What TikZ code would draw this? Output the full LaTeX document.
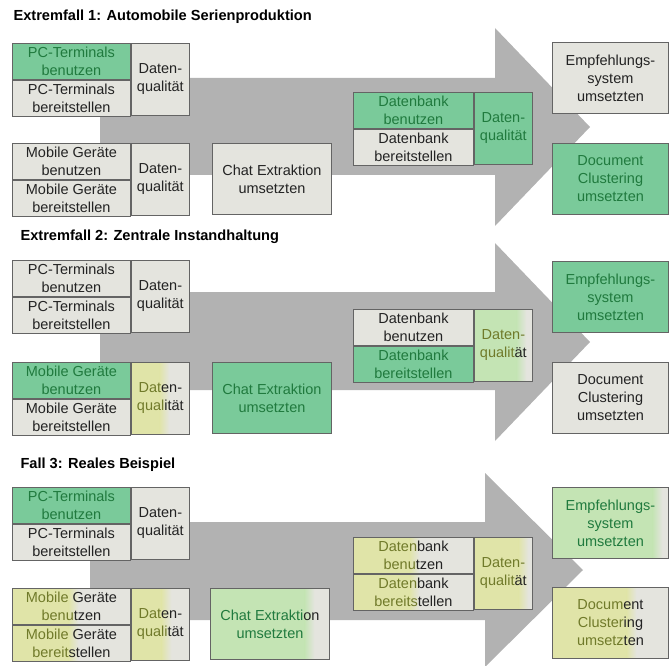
\documentclass[tikz,border=0pt]{standalone}
\usepackage{fontspec}
\setmainfont{Liberation Sans}
\usetikzlibrary{positioning}

\definecolor{cellgray}{RGB}{228,228,222}
\definecolor{cellgreen}{RGB}{122,202,154}
\definecolor{greentext}{RGB}{32,122,62}
\definecolor{lightgreen}{RGB}{196,228,180}
\definecolor{yellowish}{RGB}{224,228,168}
\definecolor{olivetext}{RGB}{112,122,42}
\definecolor{arrowgray}{RGB}{178,178,178}
\definecolor{frame}{RGB}{100,100,100}
\definecolor{darktext}{RGB}{35,35,35}

\newcommand{\olv}[1]{\textcolor{olivetext}{#1}}
\newcommand{\grn}[1]{\textcolor{greentext}{#1}}

\tikzset{
  cell/.style={draw=frame, line width=0.9pt, fill=cellgray, text=darktext,
    inner sep=0pt, align=center, minimum width=118pt, minimum height=36pt,
    font=\fontsize{14.5}{18}\selectfont},
  qual/.style={cell, minimum width=58pt, minimum height=72pt},
  dbcell/.style={cell, minimum width=120pt},
  taskbox/.style={cell, minimum width=119pt, minimum height=71pt},
  hot/.style={fill=cellgreen, text=greentext},
  partfill/.style 2 args={path picture={
    \fill[#1] (path picture bounding box.south west) rectangle ([xshift=#2]path picture bounding box.north west);
    \shade[left color=#1, right color=cellgray] ([xshift=#2]path picture bounding box.south west) rectangle ([xshift=#2+10]path picture bounding box.north west);
  }},
  heading/.style={anchor=west, font=\bfseries\fontsize{14.6}{17}\selectfont}
}

\begin{document}
\begin{tikzpicture}[x=1pt, y=-1pt, node distance=0pt]
  \useasboundingbox (0,0) rectangle (670,666);

  % Extremfall 1
  \node[heading] (t1) at (10,17) {Extremfall 1: Automobile Serienproduktion};
  \fill[arrowgray] (100,78) -- (495,78) -- (495,28) -- (590,127) -- (495,226) -- (495,175) -- (100,175) -- cycle;
  \node[cell, hot, anchor=north west] (pcu1) at (12,43) {PC-Terminals\\benutzen};
  \node[cell, below=of pcu1] (pcb1) {PC-Terminals\\bereitstellen};
  \node[qual, anchor=north west] (pcq1) at (pcu1.north east) {Daten-\\qualität};
  \node[cell, anchor=north west] (mgu1) at (12,143) {Mobile Geräte\\benutzen};
  \node[cell, below=of mgu1] (mgb1) {Mobile Geräte\\bereitstellen};
  \node[qual, anchor=north west] (mgq1) at (mgu1.north east) {Daten-\\qualität};
  \node[taskbox, anchor=north west] (chat1) at (212,143) {Chat Extraktion\\umsetzten};
  \node[dbcell, hot, anchor=north west] (dbu1) at (353,92) {Datenbank\\benutzen};
  \node[dbcell, below=of dbu1] (dbb1) {Datenbank\\bereitstellen};
  \node[qual, hot, anchor=north west] (dbq1) at (dbu1.north east) {Daten-\\qualität};
  \node[taskbox, minimum width=116pt, anchor=north west] (emp1) at (552,42) {Empfehlungs-\\system\\umsetzten};
  \node[taskbox, hot, minimum width=116pt, anchor=north west] (doc1) at (552,143) {Document\\Clustering\\umsetzten};

  % Extremfall 2
  \node[heading] (t2) at (17,237) {Extremfall 2: Zentrale Instandhaltung};
  \fill[arrowgray] (100,292) -- (495,292) -- (495,243) -- (590,342) -- (495,441) -- (495,390) -- (100,390) -- cycle;
  \node[cell, anchor=north west] (pcu2) at (12,260) {PC-Terminals\\benutzen};
  \node[cell, below=of pcu2] (pcb2) {PC-Terminals\\bereitstellen};
  \node[qual, anchor=north west] (pcq2) at (pcu2.north east) {Daten-\\qualität};
  \node[cell, hot, anchor=north west] (mgu2) at (12,362) {Mobile Geräte\\benutzen};
  \node[cell, below=of mgu2] (mgb2) {Mobile Geräte\\bereitstellen};
  \node[qual, partfill={yellowish}{28}, anchor=north west] (mgq2) at (mgu2.north east) {\olv{Dat}en-\\\olv{qual}ität};
  \node[taskbox, hot, anchor=north west] (chat2) at (212,362) {Chat Extraktion\\umsetzten};
  \node[dbcell, anchor=north west] (dbu2) at (353,309) {Datenbank\\benutzen};
  \node[dbcell, hot, below=of dbu2] (dbb2) {Datenbank\\bereitstellen};
  \node[qual, partfill={lightgreen}{42}, anchor=north west] (dbq2) at (dbu2.north east) {\olv{Daten-}\\\olv{qualit}ät};
  \node[taskbox, hot, minimum width=116pt, anchor=north west] (emp2) at (552,261) {Empfehlungs-\\system\\umsetzten};
  \node[taskbox, minimum width=116pt, anchor=north west] (doc2) at (552,362) {Document\\Clustering\\umsetzten};

  % Fall 3
  \node[heading] (t3) at (17,465) {Fall 3: Reales Beispiel};
  \fill[arrowgray] (90,522) -- (485,522) -- (485,473) -- (583,570) -- (485,667) -- (485,620) -- (90,620) -- cycle;
  \node[cell, hot, anchor=north west] (pcu3) at (12,487) {PC-Terminals\\benutzen};
  \node[cell, below=of pcu3] (pcb3) {PC-Terminals\\bereitstellen};
  \node[qual, anchor=north west] (pcq3) at (pcu3.north east) {Daten-\\qualität};
  \node[cell, partfill={yellowish}{56}, anchor=north west] (mgu3) at (12,588) {\olv{Mobile} Geräte\\\olv{benu}tzen};
  \node[cell, partfill={yellowish}{56}, below=of mgu3] (mgb3) {\olv{Mobile} Geräte\\\olv{bereit}stellen};
  \node[qual, partfill={yellowish}{30}, anchor=north west] (mgq3) at (mgu3.north east) {\olv{Dat}en-\\\olv{quali}tät};
  \node[taskbox, partfill={lightgreen}{94}, anchor=north west] (chat3) at (210,588) {\grn{Chat Extrakti}on\\\grn{umsetzten}};
  \node[dbcell, partfill={yellowish}{56}, anchor=north west] (dbu3) at (353,537) {\olv{Daten}bank\\\olv{benu}tzen};
  \node[dbcell, partfill={yellowish}{56}, below=of dbu3] (dbb3) {\olv{Daten}bank\\\olv{bereits}tellen};
  \node[qual, partfill={yellowish}{44}, anchor=north west] (dbq3) at (dbu3.north east) {\olv{Daten-}\\\olv{qualit}ät};
  \node[taskbox, partfill={lightgreen}{100}, minimum width=116pt, anchor=north west] (emp3) at (552,487) {\grn{Empfehlungs-}\\\grn{system}\\\grn{umsetzten}};
  \node[taskbox, partfill={yellowish}{74}, minimum width=116pt, anchor=north west] (doc3) at (552,587) {\olv{Docum}ent\\\olv{Cluster}ing\\\olv{umsetz}ten};
\end{tikzpicture}
\end{document}
